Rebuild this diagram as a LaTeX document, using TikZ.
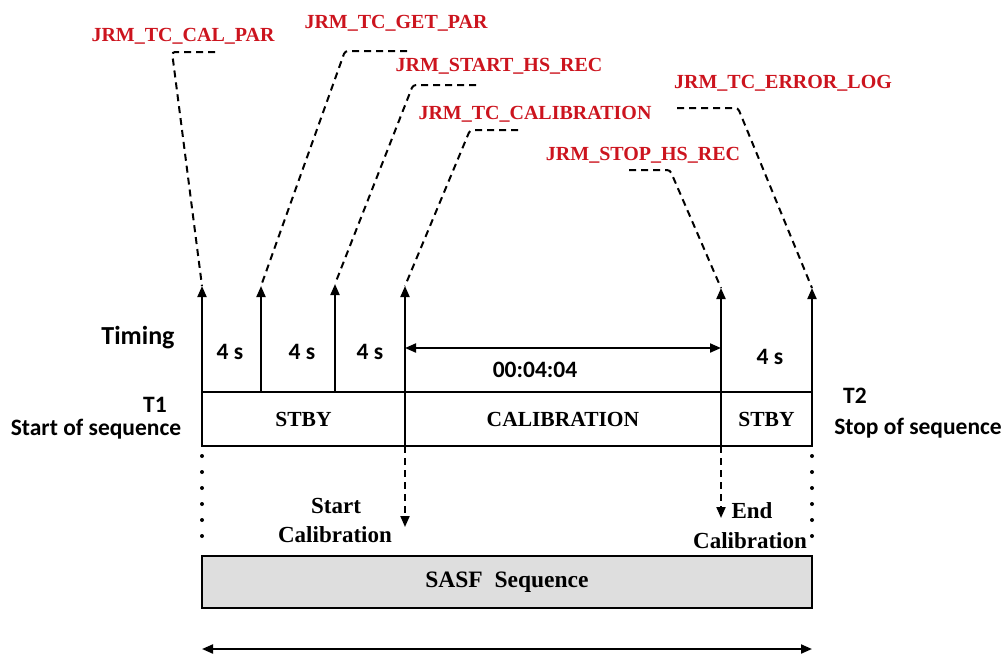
\documentclass[tikz,border=0pt]{standalone}
\usepackage{fontspec}
\setmainfont{Liberation Serif}
\newfontfamily\calib{Carlito}
\usetikzlibrary{arrows.meta}
\definecolor{jrmred}{RGB}{204,20,30}
\definecolor{sasfgray}{RGB}{222,222,222}
\begin{document}
\begin{tikzpicture}[x=1pt,y=-1pt,
  tc/.style={font=\bfseries\fontsize{20}{22}\selectfont, text=jrmred, inner sep=0pt},
  lbl/.style={font=\calib\bfseries\fontsize{23.5}{26}\selectfont, inner sep=0pt},
  srf/.style={font=\bfseries\fontsize{23}{26}\selectfont, inner sep=0pt},
  seg/.style={draw, line width=2pt, inner sep=0pt, outer sep=0pt, minimum height=54pt, anchor=north west, font=\bfseries\fontsize{21.5}{24}\selectfont},
  leader/.style={line width=2pt, dash pattern=on 7pt off 5pt, rounded corners=3pt},
  tick/.style={line width=2pt, -{Triangle[length=11pt,width=9pt]}},
  dbl/.style={line width=2pt, {Triangle[length=11pt,width=9pt]}-{Triangle[length=11pt,width=9pt]}},
  dnarrow/.style={line width=2pt, dash pattern=on 7pt off 5pt, -{Triangle[length=11pt,width=9pt]}},
  dotl/.style={line width=4pt, line cap=round, dash pattern=on 0pt off 16pt}]
\path[use as bounding box] (0,0) rectangle (1006,654);

% red telecommand labels
\node[tc] (calpar) at (183,36) {JRM\_TC\_CAL\_PAR};
\node[tc] (getpar) at (396,23) {JRM\_TC\_GET\_PAR};
\node[tc] (starths) at (499,66) {JRM\_START\_HS\_REC};
\node[tc] (tccal) at (535,114) {JRM\_TC\_CALIBRATION};
\node[tc] (stophs) at (643,155) {JRM\_STOP\_HS\_REC};
\node[tc] (errlog) at (783,83) {JRM\_TC\_ERROR\_LOG};

% timeline segments
\node[seg, minimum width=203pt] (stby1) at (202,392) {STBY};
\node[seg, minimum width=316pt] (calib) at (405,392) {CALIBRATION};
\node[seg, minimum width=91pt] (stby2) at (721,392) {STBY};

% arrow tip coordinates
\coordinate (a1) at (202,286);
\coordinate (a2) at (261,286);
\coordinate (a3) at (335,284);
\coordinate (a4) at (405,286);
\coordinate (a5) at (721,288);
\coordinate (a6) at (812,288);
\coordinate (b2) at (261,392);
\coordinate (b3) at (335,392);

% timing arrows
\draw[tick] (stby1.north west) -- (a1);
\draw[tick] (b2) -- (a2);
\draw[tick] (b3) -- (a3);
\draw[tick] (calib.south west) -- (a4);
\draw[tick] (stby2.south west) -- (a5);
\draw[tick] (stby2.north east) -- (a6);

% leader lines
\coordinate (l1a) at (215,52); \coordinate (l1b) at (172,52);
\coordinate (l2a) at (407,51); \coordinate (l2b) at (345,51);
\coordinate (l3a) at (476,85); \coordinate (l3b) at (413,85);
\coordinate (l4a) at (518,130); \coordinate (l4b) at (470,130);
\coordinate (l5a) at (629,170); \coordinate (l5b) at (670,170);
\coordinate (l6a) at (677,108); \coordinate (l6b) at (738,108);
\draw[leader] (l1a) -- (l1b) -- (a1);
\draw[leader] (l2a) -- (l2b) -- (a2);
\draw[leader] (l3a) -- (l3b) -- (a3);
\draw[leader] (l4a) -- (l4b) -- (a4);
\draw[leader] (l5a) -- (l5b) -- (a5);
\draw[leader] (l6a) -- (l6b) -- (a6);

% timing labels
\node[lbl, font=\calib\bfseries\fontsize{26}{28}\selectfont] (timing) at (138,338) {Timing};
\node[lbl] (s1) at (230,352) {4 s};
\node[lbl] (s2) at (302,352) {4 s};
\node[lbl] (s3) at (370,352) {4 s};
\node[lbl] (s4) at (770,357) {4 s};
\coordinate (d1) at (405,348);
\coordinate (d2) at (721,348);
\draw[dbl] (d1) -- (d2);
\node[lbl] (dur) at (535,370) {00:04:04};

\node[lbl] (t1) at (155,405) {T1};
\node[lbl] (t1s) at (96,429) {Start of sequence};
\node[lbl] (t2) at (855,396) {T2};
\node[lbl] (t2s) at (918,428) {Stop of sequence};

% calibration markers
\coordinate (c1) at (405,527);
\coordinate (c2) at (721,518);
\draw[dnarrow] (calib.south west) -- (c1);
\draw[dnarrow] (stby2.south west) -- (c2);
\node[srf] (startc) at (336,506) {Start};
\node[srf] (startc2) at (335,535) {Calibration};
\node[srf] (endc) at (752,511) {End};
\node[srf] (endc2) at (750,541) {Calibration};

% dotted guides
\coordinate (p1) at (202,456); \coordinate (p2) at (202,548);
\coordinate (p3) at (812,456); \coordinate (p4) at (812,548);
\draw[dotl] (p1) -- (p2);
\draw[dotl] (p3) -- (p4);

% SASF sequence
\node[draw, line width=2pt, fill=sasfgray, minimum width=610pt, minimum height=52pt, inner sep=0pt, font=\bfseries\fontsize{23.5}{26}\selectfont] (sasf) at (507,582) {SASF~~Sequence};

\coordinate (e1) at (202,649);
\coordinate (e2) at (812,649);
\draw[dbl] (e1) -- (e2);
\end{tikzpicture}
\end{document}
